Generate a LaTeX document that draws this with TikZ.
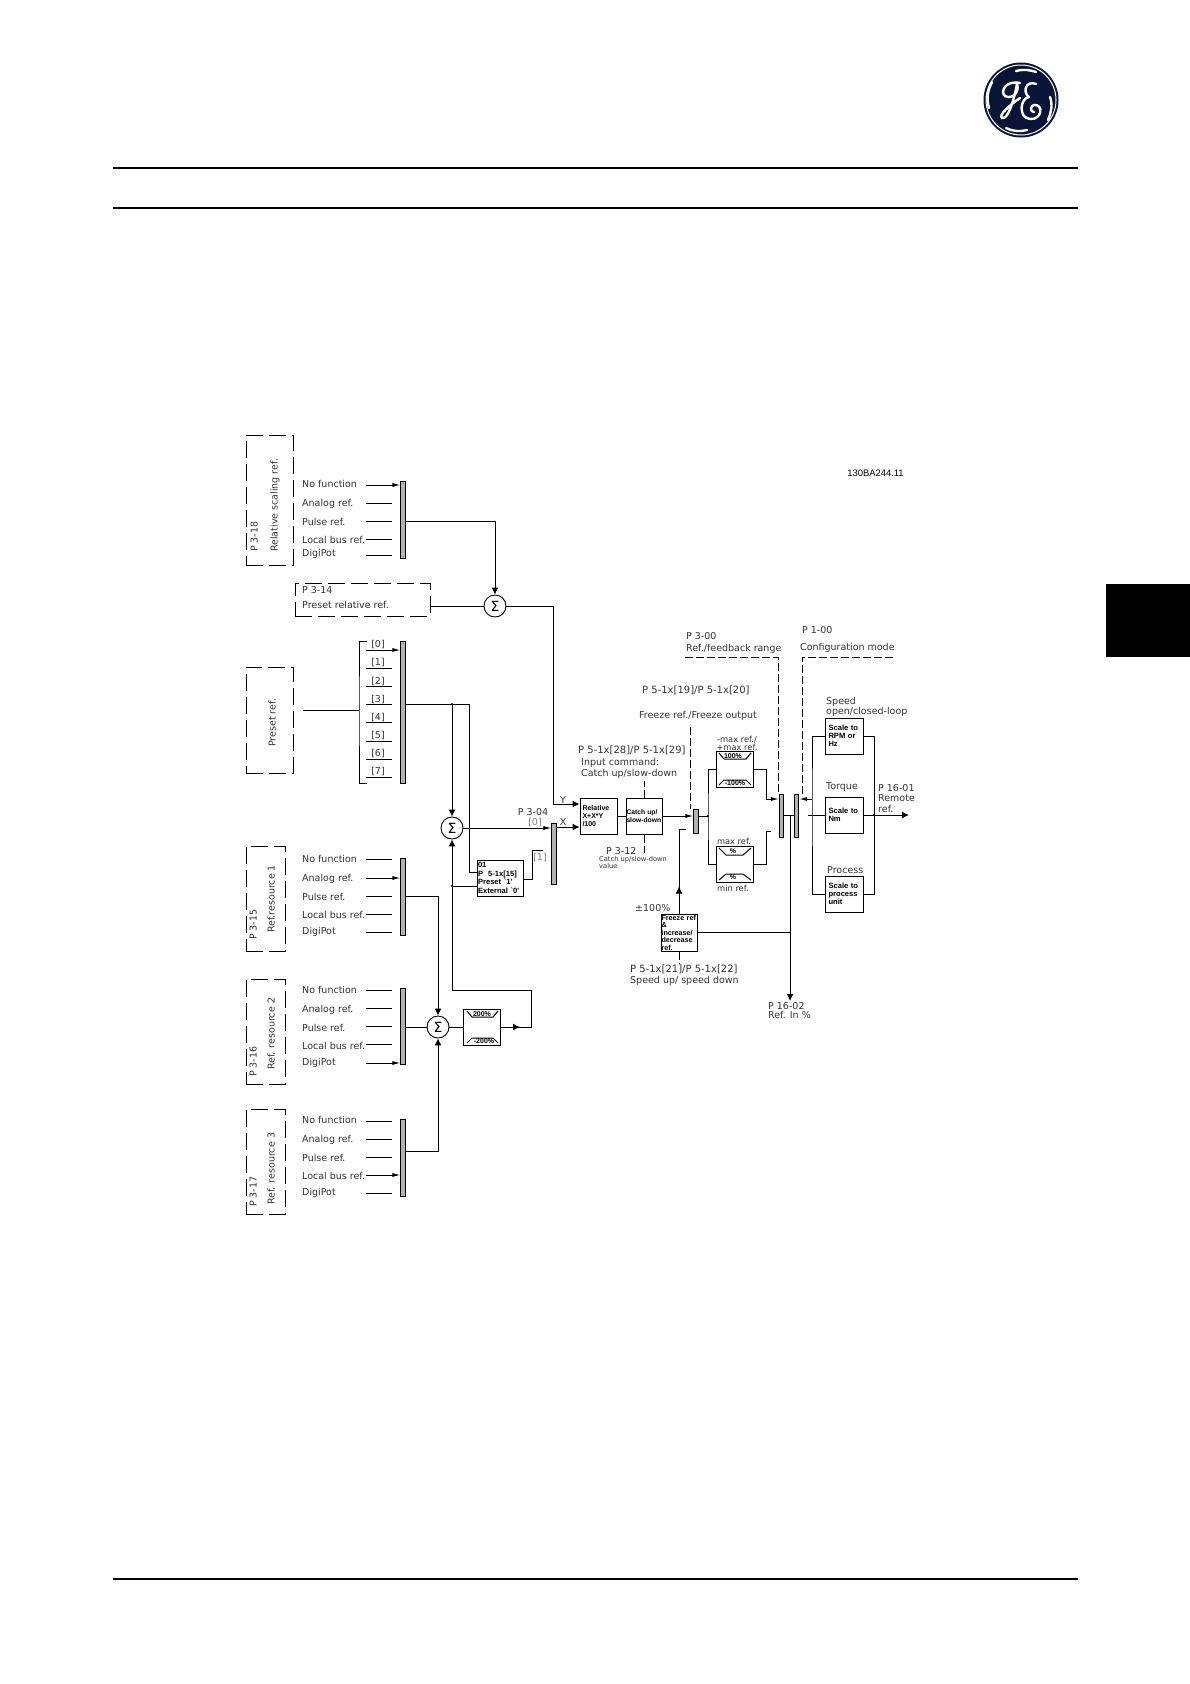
\documentclass[tikz,border=0pt]{standalone}
\usepackage{fontspec}
\setmainfont{DejaVu Sans}
\newfontfamily\blockfont{Liberation Sans}
\usepackage{tikz}
\usetikzlibrary{positioning,shapes.geometric,arrows.meta,calc}
\definecolor{genavy}{HTML}{0A1436}
\tikzset{
    lbl/.style={anchor=west,inner sep=0pt,text height=7pt,text depth=0pt,text=black!80,font=\fontsize{9.5}{11}\selectfont},
    lblw/.style={lbl,font=\fontsize{10}{11}\selectfont},
    lblc/.style={lbl,anchor=center},
    lbls/.style={lbl,anchor=center,font=\fontsize{8.3}{9}\selectfont},
    grey/.style={lbl,anchor=center,text=black!50},
    rotlbl/.style={lbl,text depth=2pt,rotate=90},
    tiny/.style={lbl,text height=5pt,font=\fontsize{6.7}{8}\selectfont},
    dashbox/.style={draw,line width=0.8pt,dash pattern=on 17pt off 6pt,inner sep=0pt},
    selbar/.style={draw,line width=0.7pt,fill=black!30,minimum width=4.5pt,inner sep=0pt},
    sumnode/.style={draw,circle,line width=0.9pt,fill=white,minimum size=22pt,inner sep=0pt,font=\fontsize{14}{14}\selectfont},
    blockbox/.style={draw,line width=1pt,fill=white,align=left,inner ysep=0pt,minimum height=36pt,font=\blockfont\bfseries\fontsize{7.6}{8.2}\selectfont},
    limbox/.style={draw,line width=1pt,minimum width=37pt,minimum height=36pt,inner sep=0pt},
    limtxt/.style={inner sep=0pt,font=\blockfont\bfseries\fontsize{7}{8}\selectfont},
    wire/.style={line width=1pt},
    dashwire/.style={line width=0.8pt,dash pattern=on 8pt off 3pt},
    tip/.style={wire,-{Latex[length=7pt,width=7pt]}},
    bartip/.style={wire,-{Latex[length=8pt,width=4pt]}}
}
\begin{document}
\begin{tikzpicture}[x=1pt,y=-1pt]
    \useasboundingbox (0,0) rectangle (1190,1684);
    % page furniture
    \draw[line width=2pt] (113,168) -- (1077.5,168);
    \draw[line width=2pt] (113,207.5) -- (1077.5,207.5);
    \draw[line width=2pt] (113,1579) -- (1077.5,1579);
    \fill[black] (1106,584) rectangle (1190,657);

    % logo
    \fill[genavy] (1021,100) circle (37.5);
    \draw[white,line width=1pt] (1021,100) circle (35);
    \begin{scope}[white,line width=2.4pt,line cap=round]
        \draw (1016,71) .. controls (1024,69) and (1030,70) .. (1036,72);
        \draw (1050,97) .. controls (1053,105) and (1051,113) .. (1048,120);
        \draw (1027,130) .. controls (1018,132) and (1012,131) .. (1006,128);
        \draw (989,108) .. controls (986,98) and (988,90) .. (992,82);
        \draw (1020,83) .. controls (1005,80) and (1000,92) .. (1005,96) .. controls (1012,100) and (1020,92) .. (1017,84);
        \draw (1017,84) .. controls (1014,100) and (1008,120) .. (1002,118) .. controls (998,115) and (1010,105) .. (1020,98);
        \draw (1036,84) .. controls (1026,80) and (1022,92) .. (1029,97);
        \draw (1029,97) .. controls (1020,98) and (1018,118) .. (1030,119) .. controls (1042,120) and (1044,104) .. (1034,105) .. controls (1030,106) and (1030,112) .. (1034,112);
    \end{scope}

    \node[lblc,text=black,font=\blockfont\fontsize{9.4}{10}\selectfont] (drawno) at (875.5,473) {130BA244.11};

    % dashed parameter boxes
    \node[dashbox,minimum width=47pt,minimum height=130pt] (g318) at (269.5,500) {};
    \node[dashbox,minimum width=135pt,minimum height=33pt] (g314) at (362.5,599.5) {};
    \node[dashbox,minimum width=47pt,minimum height=106pt] (gpre) at (269.5,720) {};
    \node[dashbox,minimum width=39pt,minimum height=105pt] (g315) at (265.5,898.5) {};
    \node[dashbox,minimum width=39pt,minimum height=105pt] (g316) at (265.5,1031.5) {};
    \node[dashbox,minimum width=39pt,minimum height=105pt] (g317) at (265.5,1161.5) {};
    \node[rotlbl] (t318) at (255,552) {P 3-18};
    \node[rotlbl] (n318) at (275,552) {Relative scaling ref.};
    \node[lbl] (t314) at (302,590) {P 3-14};
    \node[lbl] (n314) at (302,605) {Preset relative ref.};
    \node[rotlbl] (npre) at (273,747) {Preset ref.};
    \node[rotlbl] (t315) at (254,940) {P 3-15};
    \node[rotlbl] (n315) at (272,933) {Ref.resource 1};
    \node[rotlbl] (t316) at (254,1077) {P 3-16};
    \node[rotlbl] (n316) at (272,1070) {Ref. resource 2};
    \node[rotlbl] (t317) at (254,1207) {P 3-17};
    \node[rotlbl] (n317) at (272,1205) {Ref. resource 3};

    % selector bars
    \node[selbar,minimum height=77pt] (barA) at (403,519.5) {};
    \node[selbar,minimum height=142pt] (barB) at (403,712) {};
    \node[selbar,minimum height=77pt] (barC) at (403,896.5) {};
    \node[selbar,minimum height=76pt] (barD) at (403,1026) {};
    \node[selbar,minimum height=77pt] (barE) at (403,1157.5) {};
    \node[selbar,minimum height=61pt] (barF) at (554,853.5) {};
    \node[selbar,minimum height=24pt] (barG) at (696,821) {};
    \node[selbar,minimum height=43pt] (barH) at (781.5,815.5) {};
    \node[selbar,minimum height=43pt] (barI) at (796.5,815.5) {};

    % relative scaling sources
    \node[lbl] (a1) at (302,484) {No function};
    \node[lbl] (a2) at (302,503) {Analog ref.};
    \node[lbl] (a3) at (302,522) {Pulse ref.};
    \node[lbl] (a4) at (302,540) {Local bus ref.};
    \node[lbl] (a5) at (302,553) {DigiPot};
    \coordinate (a1s) at (366,485);
    \coordinate (a2s) at (366,503);
    \coordinate (a3s) at (366,521);
    \coordinate (a4s) at (366,539);
    \coordinate (a5s) at (366,555);
    \draw[bartip] (a1s) -- (a1s -| barA.west);
    \draw[wire] (a2s) -- +(26,0);
    \draw[wire] (a3s) -- +(26,0);
    \draw[wire] (a4s) -- +(26,0);
    \draw[wire] (a5s) -- +(26,0);

    % preset sources
    \node[lblc] (p0) at (378,644) {[0]};
    \node[lblc] (p1) at (378,662) {[1]};
    \node[lblc] (p2) at (378,681) {[2]};
    \node[lblc] (p3) at (378,699) {[3]};
    \node[lblc] (p4) at (378,717) {[4]};
    \node[lblc] (p5) at (378,735) {[5]};
    \node[lblc] (p6) at (378,753) {[6]};
    \node[lblc] (p7) at (378,771) {[7]};
    \coordinate (p0s) at (366,650);
    \coordinate (p1s) at (366,668);
    \coordinate (p2s) at (366,686);
    \coordinate (p3s) at (366,704);
    \coordinate (p4s) at (366,722);
    \coordinate (p5s) at (366,741);
    \coordinate (p6s) at (366,759);
    \coordinate (p7s) at (366,777);
    \draw[bartip] (p0s) -- (p0s -| barB.west);
    \draw[wire] (p1s) -- +(26,0);
    \draw[wire] (p2s) -- +(26,0);
    \draw[wire] (p3s) -- +(26,0);
    \draw[wire] (p4s) -- +(26,0);
    \draw[wire] (p5s) -- +(26,0);
    \draw[wire] (p6s) -- +(26,0);
    \draw[wire] (p7s) -- +(26,0);
    \coordinate (brt) at (367,641);
    \coordinate (brb) at (367,783);
    \coordinate (brl) at (359,710);
    \coordinate (preout) at (303,710);
    \draw[wire] (brt) -| (brl) |- (brb);
    \draw[wire] (preout) -- (brl);

    % resource 1
    \node[lbl] (c1) at (302,859) {No function};
    \node[lbl] (c2) at (302,878) {Analog ref.};
    \node[lbl] (c3) at (302,897) {Pulse ref.};
    \node[lbl] (c4) at (302,915) {Local bus ref.};
    \node[lbl] (c5) at (302,931) {DigiPot};
    \coordinate (c1s) at (366,859);
    \coordinate (c2s) at (366,878);
    \coordinate (c3s) at (366,896);
    \coordinate (c4s) at (366,914);
    \coordinate (c5s) at (366,932);
    \draw[wire] (c1s) -- +(26,0);
    \draw[bartip] (c2s) -- (c2s -| barC.west);
    \draw[wire] (c3s) -- +(26,0);
    \draw[wire] (c4s) -- +(26,0);
    \draw[wire] (c5s) -- +(26,0);

    % resource 2
    \node[lbl] (d1) at (302,990) {No function};
    \node[lbl] (d2) at (302,1009) {Analog ref.};
    \node[lbl] (d3) at (302,1028) {Pulse ref.};
    \node[lbl] (d4) at (302,1046) {Local bus ref.};
    \node[lbl] (d5) at (302,1062) {DigiPot};
    \coordinate (d1s) at (366,990);
    \coordinate (d2s) at (366,1008);
    \coordinate (d3s) at (366,1026);
    \coordinate (d4s) at (366,1044);
    \coordinate (d5s) at (366,1063);
    \draw[wire] (d1s) -- +(26,0);
    \draw[wire] (d2s) -- +(26,0);
    \draw[wire] (d3s) -- +(26,0);
    \draw[wire] (d4s) -- +(26,0);
    \draw[bartip] (d5s) -- (d5s -| barD.west);

    % resource 3
    \node[lbl] (e1) at (302,1120) {No function};
    \node[lbl] (e2) at (302,1139) {Analog ref.};
    \node[lbl] (e3) at (302,1158) {Pulse ref.};
    \node[lbl] (e4) at (302,1176) {Local bus ref.};
    \node[lbl] (e5) at (302,1192) {DigiPot};
    \coordinate (e1s) at (366,1121);
    \coordinate (e2s) at (366,1139);
    \coordinate (e3s) at (366,1157);
    \coordinate (e4s) at (366,1175);
    \coordinate (e5s) at (366,1193);
    \draw[wire] (e1s) -- +(26,0);
    \draw[wire] (e2s) -- +(26,0);
    \draw[wire] (e3s) -- +(26,0);
    \draw[bartip] (e4s) -- (e4s -| barE.west);
    \draw[wire] (e5s) -- +(26,0);

    % summing points
    \node[sumnode] (sumA) at (495,606) {Σ};
    \node[sumnode] (sumB) at (452,828) {Σ};
    \node[sumnode] (sumC) at (438,1027) {Σ};

    % blocks
    \node[blockbox,text width=44pt,inner xsep=1pt,font=\blockfont\bfseries\fontsize{7.6}{8.7}\selectfont] (sel01) at (500,878) {01\\P~~5-1x[15]\\Preset `1'\\External `0'};
    \node[blockbox,text width=32pt,inner xsep=2.5pt,font=\blockfont\bfseries\fontsize{7}{8.2}\selectfont] (relbox) at (598.5,816) {Relative\\X+X*Y\\/100};
    \node[blockbox,text width=35pt,inner xsep=0.5pt,font=\blockfont\bfseries\fontsize{6.7}{7.6}\selectfont] (catch) at (644,816) {Catch up/\\\mbox{slow-down}};
    \node[blockbox,text width=35pt,inner xsep=0.5pt,minimum height=37pt,font=\blockfont\bfseries\fontsize{7.2}{7.5}\selectfont] (freeze) at (679,932.5) {Freeze ref\\\&\\increase/\\decrease\\ref.};
    \node[blockbox,text width=31pt,inner xsep=3.5pt] (sclA) at (844,736) {Scale to\\RPM or\\Hz};
    \node[blockbox,text width=31pt,inner xsep=3.5pt] (sclB) at (844,815) {Scale to\\Nm};
    \node[blockbox,text width=31pt,inner xsep=3.5pt] (sclC) at (844,894) {Scale to\\process\\unit};

    % limiters
    \node[limbox] (limA) at (734.5,769) {};
    \node[limbox] (limB) at (734.5,864) {};
    \node[limbox] (limC) at (482,1027) {};
    \draw[wire] (719,753) -- (724,759) -- (746,759) -- (751,753);
    \draw[wire] (719,785) -- (724,780) -- (746,780) -- (751,785);
    \node[limtxt] (limAt) at (733,756) {100\%};
    \node[limtxt] (limAb) at (735,783) {-100\%};
    \draw[wire] (719,848) -- (726,855) -- (743,855) -- (751,848);
    \draw[wire] (719,880) -- (726,874) -- (743,874) -- (751,880);
    \node[limtxt] (limBt) at (733,851) {\%};
    \node[limtxt] (limBb) at (733,877) {\%};
    \draw[wire] (467,1011) -- (472,1017) -- (493,1017) -- (498,1011);
    \draw[wire] (467,1043) -- (472,1038) -- (493,1038) -- (498,1043);
    \node[limtxt] (limCt) at (482,1014) {200\%};
    \node[limtxt] (limCb) at (484,1041) {-200\%};

    % connectors of the left half
    \draw[tip] (barA.east |- a3s) -| (sumA.north);
    \draw[wire] (g314.east |- sumA) -- (sumA.west);
    \coordinate (bout) at (barB.east |- p3s);
    \coordinate (jB) at (sumB |- p3s);
    \coordinate (bturn) at (469,704);
    \coordinate (in01) at (477,872);
    \draw[wire] (bout) -- (bturn) |- (in01);
    \draw[tip] (jB) -- (sumB.north);
    \fill (jB) circle (1.2);
    \draw[tip] (barC.east |- c3s) -| (sumC.north);
    \draw[wire] (barD.east |- sumC) -- (sumC.west);
    \draw[tip] (barE.east |- 0,1151) -| (sumC.south);
    \draw[wire] (sumC.east) -- (limC.west);
    \coordinate (limturn) at (531,1027);
    \coordinate (feedB) at (sumB |- 0,990);
    \draw[wire] (limC.east) -- (limturn) |- (feedB);
    \draw[tip] (limC.east) -- +(19,0);
    \draw[tip] (feedB) -- (sumB.south);
    \coordinate (jC) at (sumB |- 0,886);
    \draw[wire] (sel01.west |- jC) -- (jC);
    \fill (jC) circle (1.2);
    \coordinate (out01) at (sel01.east |- 0,879);
    \coordinate (in1) at (543,850);
    \draw[wire] (out01) -- (532,879) |- (in1);
    \node[lblc] (t304) at (533,812) {P 3-04};
    \node[grey] (s0) at (535,822) {[0]};
    \node[grey] (s1) at (540,857) {[1]};
    \draw[bartip] (sumB.east) -- (sumB.east -| barF.west);
    \coordinate (relx) at (relbox.west |- 0,827);
    \coordinate (rely) at (relbox.west |- 0,804);
    \coordinate (yturn) at (553,606);
    \draw[tip] (sumA.east) -- (yturn) |- (rely);
    \draw[tip] (barF.east |- relx) -- (relx);
    \node[lblc] (ylab) at (563,800) {Y};
    \node[lblc] (xlab) at (563,822) {X};

    % middle
    \draw[wire] (relbox.east) -- (catch.west);
    \draw[bartip] (catch.east) -- (catch.east -| barG.west);
    \node[lblw] (t512) at (578,750) {P 5-1x[28]/P 5-1x[29]};
    \node[lbl] (n512a) at (581,762) {Input command:};
    \node[lbl] (n512b) at (581,773) {Catch up/slow-down};
    \draw[dashwire] (catch.north) -- +(0,-17);
    \draw[dashwire] (catch.south) -- +(0,18);
    \node[lbl] (t312) at (606,851) {P 3-12};
    \node[tiny] (n312a) at (599,859) {Catch up/slow-down};
    \node[tiny] (n312b) at (599,866) {value};
    \node[lblw] (t519) at (642,690) {P 5-1x[19]/P 5-1x[20]};
    \node[lblc] (n519) at (698,715) {Freeze ref./Freeze output};
    \coordinate (frz) at (690,727);
    \draw[dashwire] (frz) -- (frz |- barG.north);
    \coordinate (frzup) at (freeze |- 0,829);
    \draw[wire] (freeze.north) -- (frzup) -- +(7,0);
    \draw[tip] (freeze.north) -- +(0,-27);
    \node[lbl] (pct) at (635,908) {±100\%};
    \draw[dashwire] (freeze.south) -- +(0,12);
    \node[lblw] (t521) at (630,969) {P 5-1x[21]/P 5-1x[22]};
    \node[lbl] (n521) at (630,980) {Speed up/ speed down};

    % range
    \coordinate (jG) at (708,816);
    \draw[wire] (barG.east |- jG) -- (jG);
    \draw[wire] (limA.west) -| (jG) |- (limB.west);
    \fill (jG) circle (1.2);
    \node[lbls] (maxa) at (737,739) {-max ref./};
    \node[lbls] (maxb) at (737,747) {+max ref.};
    \node[lbls] (maxc) at (734,841) {max ref.};
    \node[lbls] (minc) at (733,888) {min ref.};
    \coordinate (rngA) at (766,799);
    \coordinate (rngB) at (766,831);
    \draw[bartip] (limA.east) -| (rngA) -- (rngA -| barH.west);
    \draw[wire] (limB.east) -| (rngB) -- +(5,0);
    \coordinate (rng0) at (685,657);
    \coordinate (rng1) at (778,794);
    \draw[dashwire] (rng0) -| (rng1);
    \node[lbl] (t300) at (686,636) {P 3-00};
    \node[lbl] (n300) at (686,648) {Ref./feedback range};

    % configuration
    \draw[wire] (barH.east) -- (barI.west);
    \coordinate (jH) at (790,815.5);
    \coordinate (refout) at (790,1001);
    \draw[tip] (jH) -- (refout);
    \coordinate (jF) at (jH |- freeze.east);
    \draw[wire] (freeze.east) -- (jF);
    \fill (jF) circle (1.2);
    \node[lbl] (t1602) at (768,1006) {P 16-02};
    \node[lbl] (n1602) at (768,1015) {Ref. In \%};
    \coordinate (cfg0) at (893,657);
    \coordinate (cfg1) at (802,797);
    \draw[dashwire] (cfg0) -| (cfg1);
    \node[lbl] (t100) at (802,630) {P 1-00};
    \node[lbl] (n100) at (800,647) {Configuration mode};
    \coordinate (cfg) at (812,799);
    \draw[wire] (sclA.west) -| (cfg) |- (sclC.west);
    \draw[bartip] (cfg) -- (cfg -| barI.east);
    \coordinate (cfgB) at (808,815);
    \draw[wire] (cfgB) -- (sclB.west);
    \coordinate (jOut) at (874,815);
    \coordinate (remote) at (909,815);
    \draw[wire] (sclA.east) -| (jOut) |- (sclC.east);
    \draw[tip] (sclB.east) -- (remote);
    \fill (jOut) circle (1.2);
    \node[lbl] (spda) at (826,701) {Speed};
    \node[lbl] (spdb) at (826,711) {open/closed-loop};
    \node[lbl] (trq) at (826,786) {Torque};
    \node[lbl] (prc) at (827,870) {Process};
    \node[lbl] (t1601) at (878,788) {P 16-01};
    \node[lbl] (n1601a) at (878,798) {Remote};
    \node[lbl] (n1601b) at (878,809) {ref.};
\end{tikzpicture}
\end{document}
